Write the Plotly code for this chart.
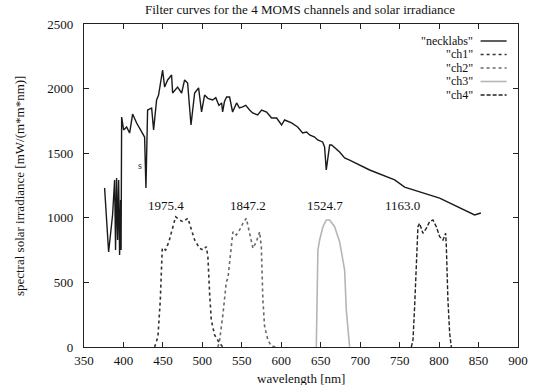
import plotly.graph_objects as go

# ---- data ----
solar_nm = [376.1, 381.2, 386.2, 388.8, 390.0, 391.3, 392.6, 393.9, 395.1, 396.4, 397.0, 397.7,
            400.2, 404.0, 407.8, 411.6, 416.7, 423.0, 426.8, 428.5, 430.6, 435.7, 438.2, 442.0,
            444.5, 449.6, 452.2, 456.0, 461.0, 462.3, 468.6, 473.7, 477.5, 481.3, 485.6, 490.2,
            495.2, 499.0, 502.8, 507.0, 513.0, 517.0, 521.0, 524.4, 525.7, 528.0, 530.7, 534.5,
            538.3, 543.4, 547.0, 551.0, 555.0, 559.9, 563.7, 570.0, 575.1, 581.4, 587.8, 594.1,
            600.4, 604.2, 613.1, 620.7, 627.1, 632.1, 635.9, 642.3, 646.1, 652.4, 654.9, 657.0,
            661.3, 663.8, 673.9, 680.3, 686.6, 712.0, 743.7, 756.3, 800.7, 845.0, 853.0]
solar_val = [1231, 735, 1022, 1293, 751, 1308, 828, 1293, 712, 1138, 751, 1780,
             1680, 1703, 1656, 1803, 1734, 1664, 1625, 1231, 1834, 1850, 1680, 1912,
             1950, 2144, 2012, 2067, 2105, 1966, 2012, 1966, 2067, 2043, 1718, 1966,
             2005, 1819, 1950, 1925, 1912, 1930, 1870, 1889, 1819, 1900, 1935, 1935,
             1819, 1889, 1850, 1858, 1870, 1834, 1811, 1796, 1834, 1819, 1772, 1772,
             1718, 1757, 1734, 1703, 1656, 1664, 1641, 1625, 1602, 1587, 1548, 1370,
             1563, 1563, 1509, 1463, 1447, 1370, 1293, 1238, 1153, 1022, 1037]

ch1_nm = [439.5, 443.7, 446.7, 449.2, 453.4, 457.6, 462.7, 466.1, 471.2, 475.3, 481.7,
          486.0, 490.2, 496.5, 500.7, 505.0, 507.0, 509.2, 511.3, 515.5, 521.9, 526.0]
ch1_val = [0, 80, 364, 766, 750, 815, 931, 1008, 983, 970, 996,
           918, 828, 764, 751, 776, 699, 415, 209, 93, 29, 0]

ch2_nm = [519.7, 521.9, 526.0, 530.4, 532.4, 535.8, 538.7, 543.0, 547.2, 551.4, 555.7,
          559.9, 564.1, 568.4, 572.6, 574.7, 576.7, 578.9, 583.1, 587.4, 593.7]
ch2_val = [0, 54, 248, 506, 532, 751, 892, 867, 906, 957, 996,
           880, 764, 815, 892, 776, 364, 157, 54, 8, 0]

ch3_nm = [644.4, 645.2, 646.4, 648.6, 652.8, 657.1, 661.3, 667.6, 673.9, 678.1,
          680.3, 682.4, 684.5, 686.6]
ch3_val = [0, 493, 751, 828, 931, 983, 983, 931, 815, 673,
           596, 286, 106, 2]

ch4_nm = [764.8, 766.9, 769.0, 771.2, 773.2, 775.3, 779.5, 783.8, 788.0, 792.2,
          796.5, 800.7, 804.9, 808.3, 809.2, 811.2, 813.4, 815.5]
ch4_val = [0, 54, 312, 673, 931, 957, 880, 918, 970, 983,
           931, 854, 828, 880, 776, 364, 106, 0]

series_names = ['"necklabs"', '"ch1"', '"ch2"', '"ch3"', '"ch4"']
peak_labels = ["1975.4", "1847.2", "1524.7", "1163.0"]
peak_label_x = [454.3, 557.3, 654.9, 753.2]
peak_label_y = [1099, 1099, 1099, 1099]

x_ticks = [350, 400, 450, 500, 550, 600, 650, 700, 750, 800, 850, 900]
y_ticks = [0, 500, 1000, 1500, 2000, 2500]

# ---- styles ----
FONT = "Liberation Serif"
FS = 13
LEG_FS = 12
styles = [
    dict(color="#1a1a1a", width=1.4, dash="solid"),
    dict(color="#333333", width=1.6, dash="dot"),
    dict(color="#6a6a6a", width=1.6, dash="dot"),
    dict(color="#b5b5b5", width=1.6, dash="solid"),
    dict(color="#222222", width=1.4, dash="4px,2px"),
]

fig = go.Figure()
data = [(solar_nm, solar_val), (ch1_nm, ch1_val), (ch2_nm, ch2_val),
        (ch3_nm, ch3_val), (ch4_nm, ch4_val)]
for (xs, ys), name, st in zip(data, series_names, styles):
    fig.add_trace(go.Scatter(x=xs, y=ys, mode="lines", name=name, line=st,
                             showlegend=False))

# peak labels and the stray "s"
for t, x, y in zip(peak_labels, peak_label_x, peak_label_y):
    fig.add_annotation(x=x, y=y, text=t, showarrow=False, xref="x", yref="y",
                       xanchor="center", yanchor="middle",
                       font=dict(family=FONT, size=FS, color="#111"))
fig.add_annotation(x=420.5, y=1401, text="s", showarrow=False,
                   xanchor="center", yanchor="middle",
                   font=dict(family=FONT, size=10, color="#333"))

# manual gnuplot-style legend (text right, sample line after)
L, R, T, B = 84.4, 518.4, 24, 347
W, H = R - L, B - T
def px(xp):
    return (xp - L) / W
def py(yp):
    return (B - yp) / H
leg_rows = [41, 54.5, 68, 81.5, 95]
for name, st, yr in zip(series_names, styles, leg_rows):
    fig.add_annotation(x=px(474), y=py(yr), xref="paper", yref="paper", text=name,
                       showarrow=False, xanchor="right", yanchor="middle",
                       borderpad=0,
                       font=dict(family=FONT, size=LEG_FS, color="#111"))
    fig.add_shape(type="line", xref="paper", yref="paper",
                  x0=px(481), x1=px(507), y0=py(yr), y1=py(yr), line=st)

# axis titles / title
fig.add_annotation(x=px(20), y=0.5, xref="paper", yref="paper",
                   text="spectral solar irradiance [mW/(m*m*nm)]", textangle=-90,
                   showarrow=False, xanchor="center", yanchor="middle",
                   font=dict(family=FONT, size=FS, color="#111"))
fig.add_annotation(x=px(301), y=py(378.5), xref="paper", yref="paper",
                   text="wavelength [nm]", showarrow=False,
                   xanchor="center", yanchor="middle",
                   font=dict(family=FONT, size=FS, color="#111"))
fig.add_annotation(x=px(300), y=py(10), xref="paper", yref="paper",
                   text="Filter curves for the 4 MOMS channels and solar irradiance",
                   showarrow=False, xanchor="center", yanchor="middle",
                   font=dict(family=FONT, size=FS, color="#111"))

axis_common = dict(showgrid=False, zeroline=False, showline=True, linecolor="#222",
                   linewidth=1.3, mirror="ticks", ticks="inside", ticklen=5,
                   tickcolor="#222", tickwidth=1.2,
                   tickfont=dict(family=FONT, size=FS, color="#111"))
fig.update_xaxes(range=[350, 900], tickvals=x_ticks, ticklabelstandoff=1, **axis_common)
fig.update_yaxes(range=[0, 2500], tickvals=y_ticks, ticklabelstandoff=7, **axis_common)

fig.update_layout(width=539, height=385,
                  margin=dict(l=84, r=21, t=24, b=38, pad=0),
                  paper_bgcolor="white", plot_bgcolor="white",
                  showlegend=False)

fig.write_html("out.html")
